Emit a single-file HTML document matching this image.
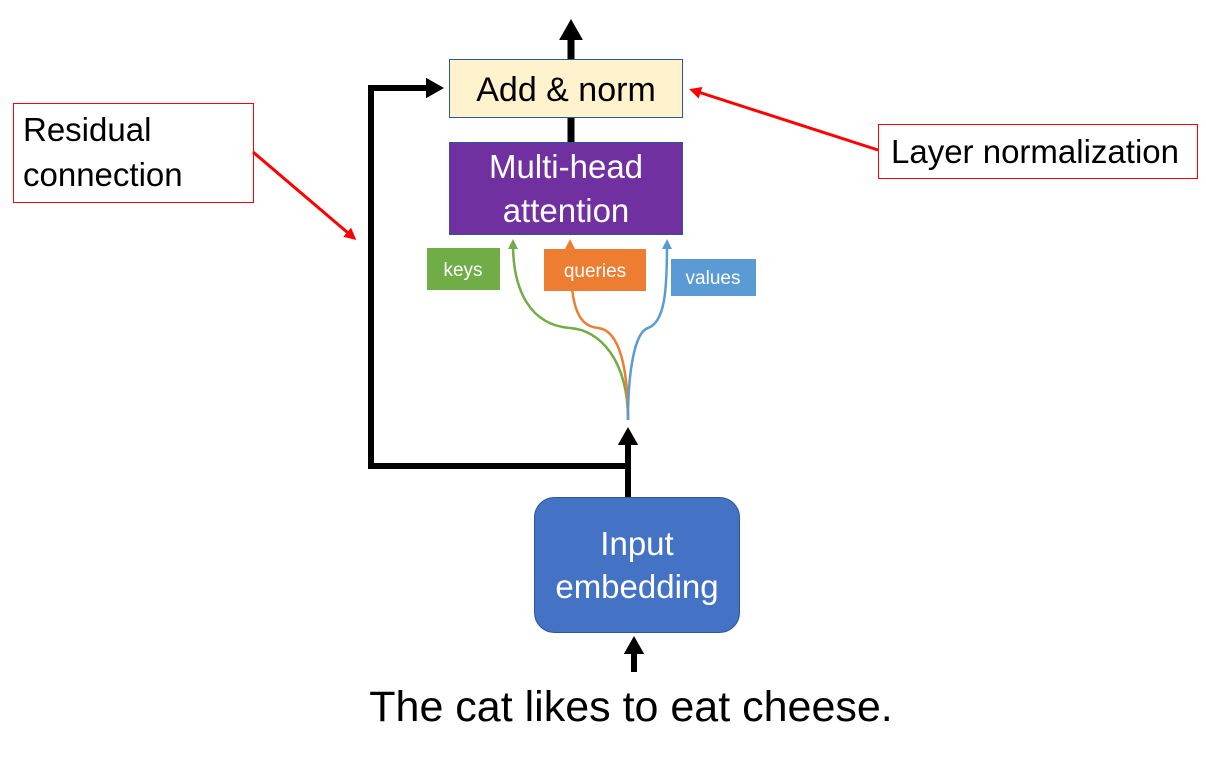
<!DOCTYPE html>
<html><head><style>body{margin:0;background:#fff}svg{display:block}text{font-family:"Liberation Sans",sans-serif}</style></head><body>
<svg width="1206" height="763" viewBox="0 0 1206 763">
<defs>
<marker id="ab" markerWidth="4" markerHeight="4" refX="2" refY="2" orient="auto" markerUnits="strokeWidth"><path d="M0,0.3L3,2L0,3.7z" fill="#000"/></marker>
<marker id="ar" markerWidth="5" markerHeight="5" refX="3" refY="2.5" orient="auto" markerUnits="strokeWidth"><path d="M0,0.5L4,2.5L0,4.5z" fill="#f00"/></marker>
<marker id="g" markerWidth="5" markerHeight="5" refX="2" refY="2.5" orient="auto" markerUnits="strokeWidth"><path d="M0,0.5L4,2.5L0,4.5z" fill="#70ad47"/></marker>
<marker id="o" markerWidth="5" markerHeight="5" refX="2" refY="2.5" orient="auto" markerUnits="strokeWidth"><path d="M0,0.5L4,2.5L0,4.5z" fill="#ed7d31"/></marker>
<marker id="b" markerWidth="5" markerHeight="5" refX="2" refY="2.5" orient="auto" markerUnits="strokeWidth"><path d="M0,0.5L4,2.5L0,4.5z" fill="#5b9bd5"/></marker>
</defs>
<line x1="571" y1="59" x2="571" y2="26" stroke="#000" stroke-width="7" marker-end="url(#ab)"/>
<line x1="571" y1="117" x2="571" y2="142" stroke="#000" stroke-width="7"/>
<polyline points="628,466 371,466 371,88 438,88" fill="none" stroke="#000" stroke-width="6" marker-end="url(#ab)"/>
<line x1="628" y1="497" x2="628" y2="433" stroke="#000" stroke-width="6" marker-end="url(#ab)"/>
<line x1="634" y1="672" x2="634" y2="642" stroke="#000" stroke-width="6" marker-end="url(#ab)"/>
<rect x="449.5" y="59.5" width="233" height="58" fill="#fff2cc" stroke="#2f5597" stroke-width="1"/>
<text x="566" y="101" font-size="34" text-anchor="middle">Add &amp; norm</text>
<rect x="449.5" y="142.5" width="233" height="92" fill="#7030a0" stroke="#2f5597" stroke-width="1"/>
<text x="566" y="178" font-size="33" fill="#fff" text-anchor="middle">Multi-head</text>
<text x="566" y="222" font-size="33" fill="#fff" text-anchor="middle">attention</text>
<path d="M628,420 C628,360 600,330 570,328 C530,325 513,290 513,244" fill="none" stroke="#70ad47" stroke-width="2.5" marker-end="url(#g)"/>
<path d="M628,420 C628,370 620,330 598,328 C575,326 570,300 570,244" fill="none" stroke="#ed7d31" stroke-width="2.5" marker-end="url(#o)"/>
<path d="M628,420 C628,370 635,332 648,328 C665,322 667,290 667,244" fill="none" stroke="#5b9bd5" stroke-width="2.5" marker-end="url(#b)"/>
<rect x="427" y="248" width="73" height="42" fill="#70ad47"/>
<text x="463" y="276" font-size="19" fill="#fff" text-anchor="middle">keys</text>
<rect x="544" y="249" width="102" height="42" fill="#ed7d31"/>
<text x="595" y="277" font-size="19" fill="#fff" text-anchor="middle">queries</text>
<rect x="671" y="259" width="85" height="37" fill="#5b9bd5"/>
<text x="713" y="284" font-size="19" fill="#fff" text-anchor="middle">values</text>
<rect x="534.5" y="497.5" width="205" height="135" rx="20" fill="#4472c4" stroke="#2f5597"/>
<text x="637" y="555" font-size="33" fill="#fff" text-anchor="middle">Input</text>
<text x="637" y="598" font-size="33" fill="#fff" text-anchor="middle">embedding</text>
<text x="631" y="721" font-size="43" text-anchor="middle">The cat likes to eat cheese.</text>
<rect x="13.5" y="103.5" width="240" height="99" fill="#fff" stroke="#f00"/>
<text x="23" y="141" font-size="33">Residual</text>
<text x="23" y="186" font-size="33">connection</text>
<line x1="253" y1="152" x2="354" y2="238" stroke="#f00" stroke-width="3" marker-end="url(#ar)"/>
<rect x="878.5" y="124.5" width="319" height="54" fill="#fff" stroke="#f00"/>
<text x="1035" y="163" font-size="33" text-anchor="middle">Layer normalization</text>
<line x1="878" y1="150" x2="692" y2="90" stroke="#f00" stroke-width="3" marker-end="url(#ar)"/>
</svg>
</body></html>
